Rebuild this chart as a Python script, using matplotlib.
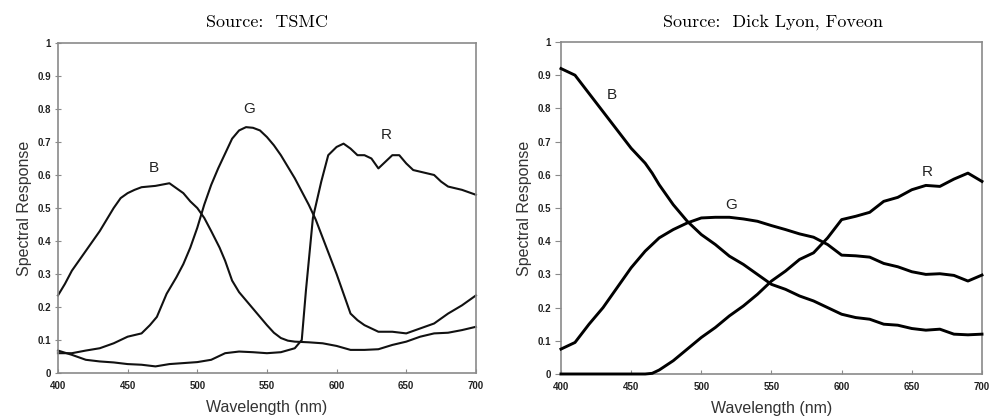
import matplotlib

matplotlib.use("Agg")
import matplotlib.pyplot as plt

# TSMC sensor (left panel)
tsmc_b_wl = [400, 405, 410, 415, 420, 425, 430, 435, 440, 445, 450, 455, 460, 470, 480, 485,
             490, 495, 500, 505, 510, 516, 520, 525, 530, 535, 540, 545, 550, 555, 560, 565,
             570, 580, 590, 600, 610, 620, 630, 640, 650, 660, 670, 680, 690, 700]
tsmc_b = [0.235, 0.27, 0.31, 0.34, 0.37, 0.40, 0.43, 0.465, 0.50, 0.53, 0.545, 0.555, 0.563,
          0.567, 0.575, 0.56, 0.545, 0.52, 0.50, 0.47, 0.43, 0.38, 0.34, 0.28, 0.245, 0.22,
          0.195, 0.17, 0.145, 0.122, 0.106, 0.098, 0.095, 0.093, 0.09, 0.082, 0.07, 0.07,
          0.072, 0.085, 0.095, 0.11, 0.12, 0.122, 0.13, 0.14]
tsmc_g_wl = [400, 410, 420, 430, 440, 450, 460, 466, 471, 478, 485, 490, 495, 500, 505, 510,
             515, 520, 525, 530, 535, 540, 545, 550, 555, 560, 565, 570, 575, 580, 585, 590,
             595, 600, 605, 610, 615, 620, 630, 640, 650, 660, 670, 680, 690, 700]
tsmc_g = [0.06, 0.06, 0.068, 0.075, 0.09, 0.11, 0.12, 0.145, 0.17, 0.24, 0.29, 0.33, 0.38,
          0.44, 0.51, 0.57, 0.62, 0.665, 0.71, 0.735, 0.745, 0.743, 0.735, 0.715, 0.69,
          0.66, 0.625, 0.59, 0.55, 0.51, 0.465, 0.41, 0.355, 0.30, 0.24, 0.18, 0.16, 0.145,
          0.125, 0.125, 0.12, 0.135, 0.15, 0.18, 0.205, 0.235]
tsmc_r_wl = [400, 410, 420, 430, 440, 450, 460, 470, 480, 490, 500, 510, 520, 530, 540, 550,
             560, 570, 575, 578, 583, 589, 594, 600, 605, 610, 615, 620, 625, 630, 635, 640,
             645, 650, 655, 660, 670, 675, 680, 690, 700]
tsmc_r = [0.068, 0.055, 0.04, 0.035, 0.032, 0.027, 0.025, 0.02, 0.027, 0.03, 0.033, 0.04,
          0.06, 0.065, 0.063, 0.06, 0.063, 0.075, 0.10, 0.25, 0.47, 0.58, 0.66, 0.685, 0.695,
          0.68, 0.66, 0.66, 0.65, 0.62, 0.64, 0.66, 0.66, 0.635, 0.615, 0.61, 0.60, 0.58,
          0.565, 0.555, 0.54]

# Foveon sensor (right panel)
fov_wl = [400, 410, 420, 430, 440, 450, 460, 465, 470, 480, 490, 500, 510, 520, 530, 540,
          550, 560, 570, 580, 590, 600, 610, 620, 630, 640, 650, 660, 670, 680, 690, 700]
fov_b = [0.92, 0.90, 0.845, 0.79, 0.735, 0.68, 0.635, 0.605, 0.57, 0.51, 0.46, 0.42, 0.39,
         0.355, 0.33, 0.30, 0.27, 0.255, 0.235, 0.22, 0.20, 0.18, 0.17, 0.165, 0.15, 0.147,
         0.137, 0.132, 0.135, 0.12, 0.118, 0.12]
fov_g = [0.075, 0.095, 0.15, 0.20, 0.26, 0.32, 0.37, 0.39, 0.41, 0.435, 0.455, 0.47, 0.472,
         0.472, 0.467, 0.46, 0.447, 0.435, 0.422, 0.412, 0.39, 0.358, 0.356, 0.352, 0.333,
         0.323, 0.308, 0.30, 0.302, 0.297, 0.28, 0.298]
fov_r = [0.0, 0.0, 0.0, 0.0, 0.0, 0.0, 0.0, 0.002, 0.012, 0.04, 0.075, 0.11, 0.14, 0.175,
         0.205, 0.24, 0.28, 0.31, 0.345, 0.365, 0.41, 0.465, 0.475, 0.487, 0.52, 0.532,
         0.555, 0.568, 0.565, 0.587, 0.605, 0.58]

yticks = [0, 0.1, 0.2, 0.3, 0.4, 0.5, 0.6, 0.7, 0.8, 0.9, 1]
ytick_labels = ["0", "0.1", "0.2", "0.3", "0.4", "0.5", "0.6", "0.7", "0.8", "0.9", "1"]
xticks = [400, 450, 500, 550, 600, 650, 700]

SANS = ["Liberation Sans", "DejaVu Sans"]
SERIF = ["cmr10", "DejaVu Serif"]
FRAME = "#8a8a8a"

fig = plt.figure(figsize=(9.89, 4.19), dpi=100)
ax1 = fig.add_axes([0.0586, 0.1098, 0.4226, 0.7876])
ax2 = fig.add_axes([0.5672, 0.1074, 0.4257, 0.7924])


def style_axes(ax, ytick_dir):
    ax.set_xlim(400, 700)
    ax.set_ylim(0, 1)
    ax.set_xticks(xticks)
    ax.set_xticklabels([str(t) for t in xticks], family=SANS, fontsize=7, fontweight="bold",
                       color="#222222")
    ax.set_yticks(yticks)
    ax.set_yticklabels(ytick_labels, family=SANS, fontsize=7, fontweight="bold",
                       color="#222222")
    ax.tick_params(axis="x", direction="in", length=3, color=FRAME, pad=6)
    ax.tick_params(axis="y", direction=ytick_dir, length=4, color=FRAME, pad=3)
    for spine in ax.spines.values():
        spine.set_color(FRAME)
        spine.set_linewidth(1.2)
    ax.set_xlabel("Wavelength (nm)", family=SANS, fontsize=11.5, color="#333333", labelpad=6)
    ax.set_ylabel("Spectral Response", family=SANS, fontsize=11.5, color="#333333", labelpad=4)


# left: TSMC
ax1.plot(tsmc_b_wl, tsmc_b, color="#111111", lw=1.5, clip_on=False)
ax1.plot(tsmc_g_wl, tsmc_g, color="#111111", lw=1.5, clip_on=False)
ax1.plot(tsmc_r_wl, tsmc_r, color="#111111", lw=1.5, clip_on=False)
style_axes(ax1, "inout")
ax1.text(469, 0.62, "B", family=SANS, fontsize=11, ha="center", va="center", color="#222222")
ax1.text(537, 0.80, "G", family=SANS, fontsize=11, ha="center", va="center", color="#222222")
ax1.text(636, 0.72, "R", family=SANS, fontsize=11, ha="center", va="center", color="#222222")

# right: Foveon
for vals in (fov_b, fov_g, fov_r):
    ax2.plot(fov_wl, vals, color="#000000", lw=2.1, clip_on=False, zorder=3)
style_axes(ax2, "out")
ax2.text(436, 0.84, "B", family=SANS, fontsize=11, ha="center", va="center", color="#222222")
ax2.text(521, 0.51, "G", family=SANS, fontsize=11, ha="center", va="center", color="#222222")
ax2.text(661, 0.607, "R", family=SANS, fontsize=11, ha="center", va="center", color="#222222")

fig.text(0.27, 0.947, "Source:  TSMC", family=SERIF, fontsize=13, ha="center", va="center")
fig.text(0.782, 0.947, "Source:  Dick Lyon, Foveon", family=SERIF, fontsize=13,
         ha="center", va="center")

fig.savefig("out.png", dpi=100)
